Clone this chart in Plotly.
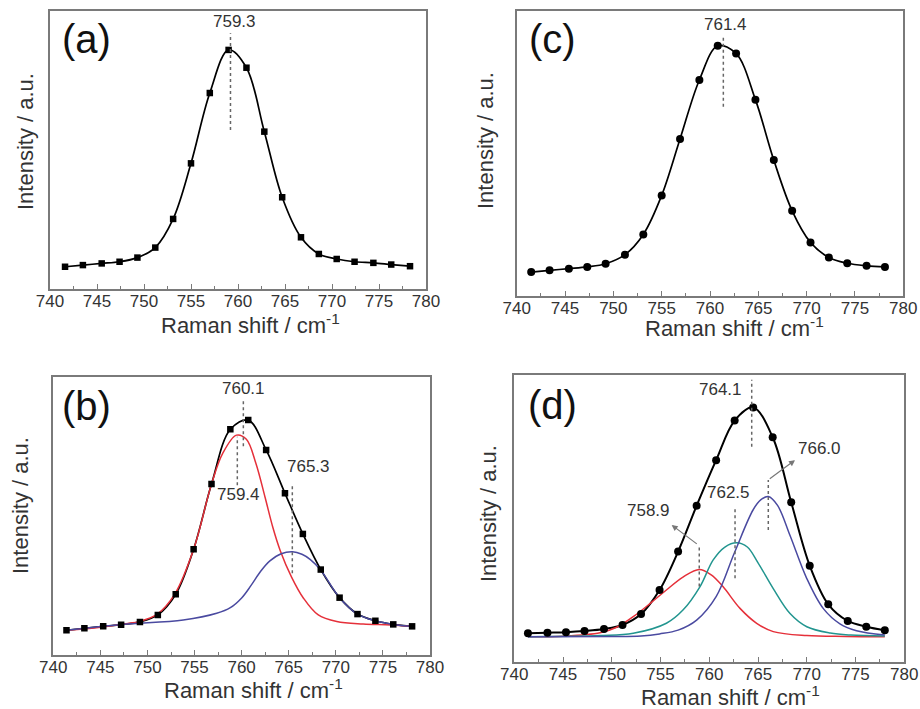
import plotly.graph_objects as go

W, H = 920, 709
FONT = "Liberation Sans, Arial, sans-serif"
TXT = "#333333"
FRAME = "#7a7a7a"
RED = "#e5303a"
BLUE = "#4a4aa0"
TEAL = "#22958f"

# ---------------- data ----------------
# panel (a)
a_x = [741.6, 743.5, 745.5, 747.4, 749.3, 751.2, 753.1, 755.0, 757.0, 759.0,
       760.9, 762.8, 764.7, 766.7, 768.6, 770.5, 772.4, 774.4, 776.3, 778.3]
a_y = [0.080, 0.086, 0.092, 0.098, 0.113, 0.149, 0.252, 0.452, 0.705, 0.860,
       0.796, 0.566, 0.330, 0.186, 0.126, 0.108, 0.098, 0.094, 0.088, 0.082]

# panel (c)
c_x = [741.5, 743.4, 745.4, 747.3, 749.2, 751.2, 753.1, 755.0, 756.9, 758.9,
       760.8, 762.7, 764.7, 766.6, 768.5, 770.4, 772.3, 774.2, 776.2, 778.1]
c_y = [0.084, 0.090, 0.096, 0.102, 0.113, 0.145, 0.216, 0.353, 0.551, 0.758,
       0.878, 0.851, 0.689, 0.477, 0.299, 0.188, 0.135, 0.115, 0.106, 0.102]

# panel (b)
b_x = [741.4, 743.3, 745.3, 747.2, 749.2, 751.1, 753.0, 754.9, 756.8, 758.8,
       760.7, 762.6, 764.6, 766.5, 768.4, 770.4, 772.3, 774.2, 776.1, 778.1]
b_y = [0.089, 0.096, 0.103, 0.109, 0.119, 0.144, 0.218, 0.380, 0.614, 0.811,
       0.844, 0.737, 0.581, 0.435, 0.307, 0.206, 0.147, 0.123, 0.110, 0.103]
b_red_x = [741.4, 745.0, 748.1, 749.1, 751.0, 752.9, 754.9, 756.8, 758.0, 759.45,
           760.5, 761.5, 762.5, 763.3, 764.1, 765.3, 766.55, 768.1, 770.1, 772.9,
           775.8, 778.1]
b_red_y = [0.089, 0.100, 0.114, 0.120, 0.146, 0.219, 0.380, 0.614, 0.725, 0.790,
           0.775, 0.690, 0.565, 0.460, 0.375, 0.280, 0.205, 0.145, 0.120, 0.111,
           0.108, 0.103]
b_blue_x = [741.4, 747.3, 753.8, 757.35, 758.8, 760.0, 761.0, 762.0, 763.0, 764.2,
            765.4, 766.4, 767.3, 768.4, 770.4, 772.3, 774.2, 776.1, 778.1]
b_blue_y = [0.089, 0.110, 0.126, 0.150, 0.170, 0.205, 0.250, 0.300, 0.338, 0.364,
            0.371, 0.362, 0.343, 0.305, 0.206, 0.147, 0.123, 0.110, 0.103]

# panel (d)
d_x = [741.4, 743.4, 745.3, 747.2, 749.2, 751.1, 753.0, 754.9, 756.8, 758.7,
       760.7, 762.6, 764.5, 766.5, 768.4, 770.3, 772.2, 774.2, 776.1, 778.0]
d_y = [0.099, 0.101, 0.103, 0.107, 0.114, 0.128, 0.166, 0.250, 0.384, 0.544,
       0.703, 0.841, 0.887, 0.783, 0.556, 0.335, 0.200, 0.142, 0.122, 0.110]
d_red_x = [741.4, 745.0, 748.8, 750.5, 752.2, 754.0, 755.6, 757.3, 758.97, 760.2,
           761.4, 763.15, 764.86, 766.56, 770.0, 774.0, 778.0]
d_red_y = [0.087, 0.089, 0.101, 0.120, 0.157, 0.205, 0.250, 0.295, 0.322, 0.303,
           0.262, 0.186, 0.134, 0.105, 0.091, 0.088, 0.087]
d_teal_x = [741.4, 748.8, 752.2, 755.6, 757.3, 759.05, 760.4, 761.6, 762.8, 763.9,
            765.0, 766.56, 768.28, 770.0, 772.4, 774.5, 778.0]
d_teal_y = [0.087, 0.091, 0.099, 0.134, 0.180, 0.262, 0.355, 0.400, 0.415, 0.400,
            0.345, 0.255, 0.168, 0.122, 0.100, 0.093, 0.090]
d_blue_x = [741.4, 750.0, 753.0, 754.9, 756.8, 758.7, 760.7, 762.6, 764.5, 765.3,
            766.05, 767.0, 768.28, 770.0, 771.7, 773.4, 775.1, 778.0]
d_blue_y = [0.087, 0.088, 0.090, 0.097, 0.110, 0.145, 0.227, 0.382, 0.530, 0.565,
            0.576, 0.545, 0.440, 0.290, 0.185, 0.132, 0.108, 0.093]

# peak labels: text, label x, label y, line x, line y0, line y1
a_peaks = [("759.3", 759.68, 0.962, 759.2, 0.572, 0.920)]
c_peaks = [("761.4", 761.6, 0.951, 761.38, 0.664, 0.910)]
b_peaks = [("760.1", 760.18, 0.958, 760.18, 0.750, 0.920),
           ("759.4", 759.65, 0.578, 759.54, 0.610, 0.784),
           ("765.3", 767.08, 0.677, 765.38, 0.294, 0.617)]
d_peaks = [("764.1", 761.1, 0.948, 764.35, 0.750, 0.983),
           ("762.5", 761.95, 0.589, 762.64, 0.291, 0.535),
           ("766.0", 771.35, 0.744, 766.05, 0.459, 0.634),
           ("758.9", 753.74, 0.529, 758.97, 0.262, 0.401)]
# arrows in (d): tail x, tail y, head x, head y
d_arrows = [(766.05, 0.634, 768.79, 0.703),
            (758.87, 0.407, 756.14, 0.477)]

x_ticks = [740, 745, 750, 755, 760, 765, 770, 775, 780]

# ---------------- layout geometry (pixels) ----------------
panels = {
    # name: (x0, x1, ytop, ybottom) in pixels
    "a": (50, 426, 11, 289),
    "c": (516.7, 903.3, 11, 296),
    "b": (53.3, 430, 376.7, 655),
    "d": (514.3, 904.3, 375, 661.7),
}
axis_ids = {"a": ("x", "y"), "c": ("x2", "y2"), "b": ("x3", "y3"), "d": ("x4", "y4")}

fig = go.Figure()

def line(xs, ys, color, ax, width=1.7, shape="spline"):
    fig.add_trace(go.Scatter(x=xs, y=ys, mode="lines", xaxis=ax[0], yaxis=ax[1],
                             line=dict(color=color, width=width, shape=shape, smoothing=1.0),
                             hoverinfo="skip", showlegend=False))

def points(xs, ys, symbol, size, ax):
    fig.add_trace(go.Scatter(x=xs, y=ys, mode="markers", xaxis=ax[0], yaxis=ax[1],
                             marker=dict(symbol=symbol, size=size, color="black"),
                             showlegend=False))

# (a)
line(a_x, a_y, "black", axis_ids["a"])
points(a_x, a_y, "square", 6.5, axis_ids["a"])
# (c)
line(c_x, c_y, "black", axis_ids["c"])
points(c_x, c_y, "circle", 8, axis_ids["c"])
# (b)
line(b_x, b_y, "black", axis_ids["b"])
line(b_red_x, b_red_y, RED, axis_ids["b"], 1.5)
line(b_blue_x, b_blue_y, BLUE, axis_ids["b"], 1.5)
points(b_x, b_y, "square", 6.5, axis_ids["b"])
# (d)
line(d_x, d_y, "black", axis_ids["d"], 2.0)
line(d_red_x, d_red_y, RED, axis_ids["d"], 1.5)
line(d_teal_x, d_teal_y, TEAL, axis_ids["d"], 1.5)
line(d_blue_x, d_blue_y, BLUE, axis_ids["d"], 1.5)
points(d_x, d_y, "circle", 8, axis_ids["d"])

layout = dict(width=W, height=H, margin=dict(l=0, r=0, t=0, b=0, pad=0, autoexpand=False),
              paper_bgcolor="white", plot_bgcolor="white",
              font=dict(family=FONT, color=TXT), showlegend=False)

for name, (x0, x1, yt, yb) in panels.items():
    xa, ya = axis_ids[name]
    xkey = "xaxis" + xa[1:]
    ykey = "yaxis" + ya[1:]
    layout[xkey] = dict(domain=[x0 / W, x1 / W], range=[740, 780], anchor=ya,
                        automargin=False, ticklabelstandoff=-4,
                        tickvals=x_ticks, ticks="inside", ticklen=5, tickwidth=1.2,
                        tickcolor=FRAME, showline=True, linecolor=FRAME, linewidth=1.6,
                        mirror=True, showgrid=False, zeroline=False,
                        tickfont=dict(size=17, color=TXT, family=FONT),
                        minor=dict(dtick=2.5, tick0=740, ticks="inside", ticklen=3,
                                   tickwidth=1.0, tickcolor=FRAME, showgrid=False))
    layout[ykey] = dict(domain=[1 - yb / H, 1 - yt / H], range=[0, 1], anchor=xa,
                        automargin=False,
                        showticklabels=False, ticks="", showline=True, linecolor=FRAME,
                        linewidth=1.6, mirror=True, showgrid=False, zeroline=False)

fig.update_layout(**layout)

annotations = []
shapes = []

def peak_marks(peaks, ax):
    for text, lx, ly, vx, y0, y1 in peaks:
        annotations.append(dict(x=lx, y=ly, xref=ax[0], yref=ax[1], text=text,
                                showarrow=False, font=dict(size=17, color=TXT, family=FONT),
                                xanchor="center", yanchor="middle"))
        shapes.append(dict(type="line", xref=ax[0], yref=ax[1], x0=vx, x1=vx, y0=y0, y1=y1,
                           line=dict(color="#666666", width=1.5, dash="dot")))

peak_marks(a_peaks, axis_ids["a"])
peak_marks(c_peaks, axis_ids["c"])
peak_marks(b_peaks, axis_ids["b"])
peak_marks(d_peaks, axis_ids["d"])

for tx, ty, hx, hy in d_arrows:
    annotations.append(dict(x=hx, y=hy, ax=tx, ay=ty, xref="x4", yref="y4",
                            axref="x4", ayref="y4", text="", showarrow=True,
                            arrowhead=2, arrowsize=1.0, arrowwidth=1.2, arrowcolor="#777777"))

# panel letters and axis titles (pixel positions)
letters = [("(a)", 86, 39), ("(c)", 552, 39), ("(b)", 86, 406), ("(d)", 552, 405)]
for t, px, py in letters:
    annotations.append(dict(x=px / W, y=1 - py / H, xref="paper", yref="paper", text=t,
                            showarrow=False, font=dict(size=40, color="#111111", family=FONT),
                            xanchor="center", yanchor="middle"))

xtitles = [(250, 324), (734, 327), (253, 689), (730, 696)]
for px, py in xtitles:
    annotations.append(dict(x=px / W, y=1 - py / H, xref="paper", yref="paper",
                            text="Raman shift / cm<sup>-1</sup>", showarrow=False,
                            font=dict(size=22, color=TXT, family=FONT),
                            xanchor="center", yanchor="middle"))

ytitles = [(25, 142), (485, 141), (20, 506), (488, 514)]
for px, py in ytitles:
    annotations.append(dict(x=px / W, y=1 - py / H, xref="paper", yref="paper",
                            text="Intensity / a.u.", showarrow=False, textangle=-90,
                            font=dict(size=22, color=TXT, family=FONT),
                            xanchor="center", yanchor="middle"))

fig.update_layout(annotations=annotations, shapes=shapes)
fig.write_html("out.html", config={"displayModeBar": False},
               post_script="document.body.style.margin='0';document.body.style.padding='0';")
